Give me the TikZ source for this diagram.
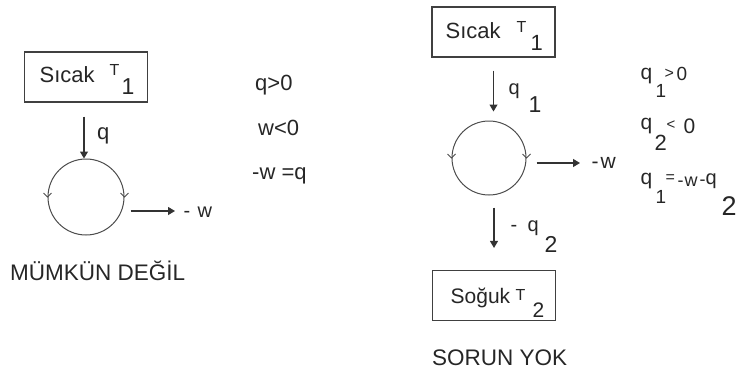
\documentclass[tikz,border=0pt]{standalone}
\usepackage{fontspec}
\setmainfont{Liberation Sans}
\usetikzlibrary{arrows.meta}
\newcommand\fz[1]{\fontsize{#1}{#1}\selectfont}
\newcommand\pc[4]{\rlap{\hspace{#1pt}\raisebox{#2pt}{\fz{#3}#4}}}
\begin{document}
\begin{tikzpicture}[x=1pt,y=-1pt,
  box/.style={draw=black!75, line width=1.1pt, minimum width=123pt, minimum height=50pt, inner sep=0pt},
  cyc/.style={circle, draw=black!70, line width=1pt, inner sep=0pt},
  txt/.style={anchor=base west, inner sep=0pt, text=black!85},
  flow/.style={draw=black!80, line width=1.1pt, -{Triangle[length=7pt,width=8pt]}},
  chev/.style={draw=black!70, line width=0.8pt},
]
\useasboundingbox (0,0) rectangle (752,372);

% ---------- left: impossible engine ----------
\node[box] (hotL) at (86,77) {};
\node[txt] (hotLt) at (39,82) {\pc{0}{0}{22}{Sıcak}\pc{70}{7}{16}{T}\pc{82}{-12}{23}{1}};
\node[cyc, minimum size=76pt] (cycL) at (86,197) {};
\draw[flow] ([shift={(-2pt,-14pt)}]hotL.south) -- ([xshift=-2pt]cycL.north);
\node[txt] (qL) at (97,139) {\fz{22}q};
\draw[chev] ([shift={(-4pt,4pt)}]cycL.west) -- (cycL.west) -- ([shift={(4pt,4pt)}]cycL.west);
\draw[chev] ([shift={(-4pt,4pt)}]cycL.east) -- (cycL.east) -- ([shift={(4pt,4pt)}]cycL.east);
\coordinate (wLend) at (175,211);
\draw[flow] ([shift={(6pt,-14pt)}]cycL.east) -- (wLend);
\node[txt] (wL) at (183,217) {\pc{0}{0}{20}{-}\pc{14}{0}{20}{w}};
\node[txt] (eL1) at (255,90) {\fz{22}q>0};
\node[txt] (eL2) at (258,135) {\fz{22}w<0};
\node[txt] (eL3) at (252,179) {\fz{22}-w =q};
\node[txt] (capL) at (10,280) {\fz{22.5}MÜMKÜN DEĞİL};

% ---------- right: heat engine ----------
\node[box] (hotR) at (493.5,32) {};
\node[txt] (hotRt) at (445,38) {\pc{0}{0}{22}{Sıcak}\pc{71}{6}{16}{T}\pc{85}{-12}{22}{1}};
\node[cyc, minimum size=74pt] (cycR) at (489,158) {};
\draw[flow] ([yshift=-13pt]hotR.south) -- ([yshift=9pt]hotR.south |- cycR.north);
\node[txt] (q1R) at (508,94) {\pc{0}{0}{20}{q}\pc{20}{-18}{23}{1}};
\draw[chev] ([shift={(-4pt,4pt)}]cycR.west) -- (cycR.west) -- ([shift={(4pt,4pt)}]cycR.west);
\draw[chev] ([shift={(-4pt,4pt)}]cycR.east) -- (cycR.east) -- ([shift={(4pt,4pt)}]cycR.east);
\coordinate (wRend) at (580,163);
\draw[flow] ([shift={(10pt,-5pt)}]cycR.east) -- (wRend);
\node[txt] (wR) at (591,168) {\pc{0}{0}{21}{-}\pc{9}{0}{21}{w}};
\node[box] (coldR) at (494,295.5) {};
\draw[flow] ([yshift=-12pt]coldR.north |- cycR.south) -- ([yshift=22pt]coldR.north);
\node[txt] (q2R) at (510,231) {\pc{0}{0}{20}{-}\pc{17}{0}{20}{q}\pc{34}{-21}{23}{2}};
\node[txt] (coldRt) at (450,303) {\pc{0}{0}{21}{Soğuk}\pc{65}{3}{16}{T}\pc{82}{-14}{21}{2}};
\node[txt] (capR) at (432,365) {\fz{22.5}SORUN YOK};
\node[txt] (eR1) at (640,79) {\pc{0}{0}{21}{q}\pc{15}{-18}{19}{1}\pc{24}{1}{16}{>}\pc{36}{-1}{19}{0}};
\node[txt] (eR2) at (640,129) {\pc{0}{0}{21}{q}\pc{14}{-21}{22}{2}\pc{26}{0}{15}{<}\pc{43}{-4}{21}{0}};
\node[txt] (eR3) at (640,184) {\pc{0}{0}{21}{q}\pc{15}{-19}{19}{1}\pc{25}{2}{16}{=}\pc{37}{-2}{18}{-}\pc{44}{-2}{18}{w}\pc{59}{-1}{18}{-}\pc{65}{0}{20}{q}\pc{81}{-31}{27}{2}};
\end{tikzpicture}
\end{document}
